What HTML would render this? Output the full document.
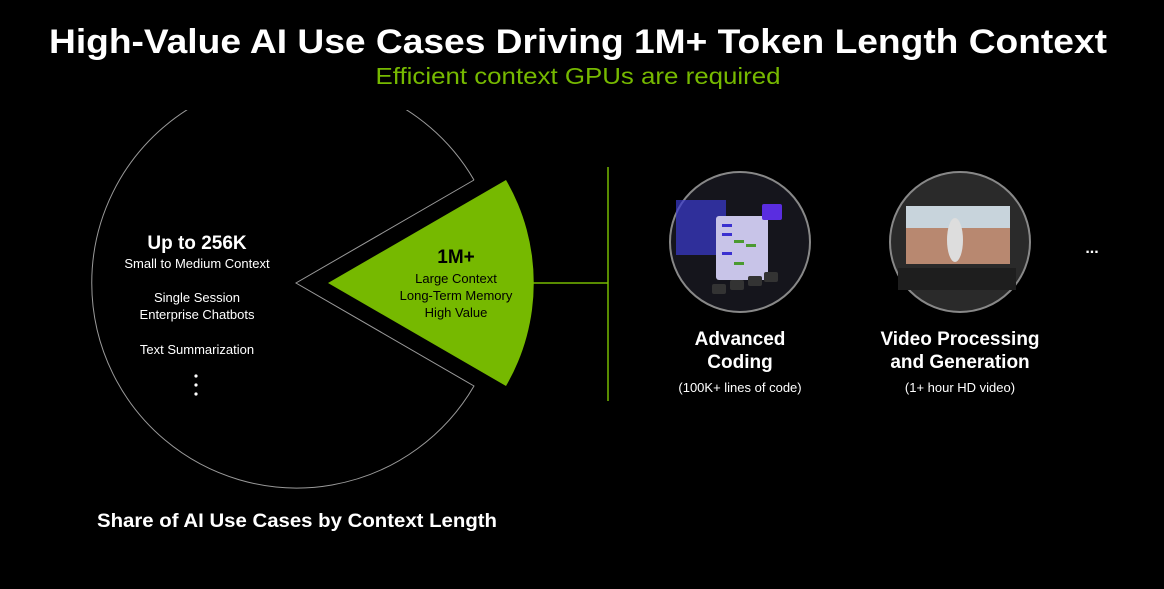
<!DOCTYPE html>
<html><head><meta charset="utf-8"><style>
html,body{margin:0;padding:0;background:#000;}
svg{display:block;}
text{font-family:"Liberation Sans",sans-serif;}
</style></head><body>
<svg width="1164" height="589" viewBox="0 0 1164 589" xmlns="http://www.w3.org/2000/svg">
<rect width="1164" height="589" fill="#000"/>
<text x="578" y="53" text-anchor="middle" font-size="34" font-weight="bold" fill="#fff" textLength="1058" lengthAdjust="spacingAndGlyphs">High-Value AI Use Cases Driving 1M+ Token Length Context</text>
<text x="578" y="84" text-anchor="middle" font-size="23" fill="#76b900" textLength="405" lengthAdjust="spacingAndGlyphs">Efficient context GPUs are required</text>
<defs><clipPath id="c"><rect x="0" y="110" width="1164" height="479"/></clipPath></defs>
<path clip-path="url(#c)" d="M474 180 L296 283 L474 386 A205 205 0 1 1 474 180" fill="none" stroke="#9a9a9a" stroke-width="1"/>
<path d="M328 283 L506 180 A205 205 0 0 1 506 386 Z" fill="#76b900"/>
<line x1="530" y1="283" x2="608" y2="283" stroke="#76b900" stroke-width="1.5"/>
<line x1="608" y1="167" x2="608" y2="401" stroke="#76b900" stroke-width="1.5"/>
<g fill="#fff" text-anchor="middle">
<text x="197" y="249" font-size="19" font-weight="bold">Up to 256K</text>
<text x="197" y="268" font-size="13">Small to Medium Context</text>
<text x="197" y="302" font-size="13">Single Session</text>
<text x="197" y="319" font-size="13">Enterprise Chatbots</text>
<text x="197" y="354" font-size="13">Text Summarization</text>
<circle cx="196" cy="376" r="1.6"/><circle cx="196" cy="385" r="1.6"/><circle cx="196" cy="394" r="1.6"/>
<text x="297" y="527" font-size="19" font-weight="bold" textLength="400" lengthAdjust="spacingAndGlyphs">Share of AI Use Cases by Context Length</text>
</g>
<g fill="#000" text-anchor="middle">
<text x="456" y="263" font-size="19" font-weight="bold">1M+</text>
<text x="456" y="283" font-size="13">Large Context</text>
<text x="456" y="300" font-size="13">Long-Term Memory</text>
<text x="456" y="317" font-size="13">High Value</text>
</g>
<circle cx="740" cy="242" r="70" fill="#15151c" stroke="#888" stroke-width="2"/>
<g>
<rect x="676" y="200" width="50" height="55" fill="#3a3ad0" opacity="0.7"/>
<rect x="716" y="216" width="52" height="64" fill="#c8c4e8" rx="3"/>
<rect x="762" y="204" width="20" height="16" fill="#5a2de0" rx="2"/>
<rect x="722" y="224" width="10" height="3" fill="#3a30d0"/><rect x="722" y="233" width="10" height="3" fill="#3a30d0"/>
<rect x="734" y="240" width="10" height="3" fill="#4a9a30"/><rect x="746" y="244" width="10" height="3" fill="#4a9a30"/>
<rect x="722" y="252" width="10" height="3" fill="#3a30d0"/><rect x="734" y="262" width="10" height="3" fill="#4a9a30"/>
<rect x="712" y="284" width="14" height="10" fill="#333" rx="2"/><rect x="730" y="280" width="14" height="10" fill="#333" rx="2"/>
<rect x="748" y="276" width="14" height="10" fill="#333" rx="2"/><rect x="764" y="272" width="14" height="10" fill="#333" rx="2"/>
</g>
<circle cx="960" cy="242" r="70" fill="#2a2a2a" stroke="#888" stroke-width="2"/>
<rect x="906" y="206" width="104" height="58" fill="#b88870"/>
<rect x="906" y="206" width="104" height="22" fill="#c8d4dc"/>
<rect x="898" y="268" width="118" height="22" fill="#1e1e1e"/>
<ellipse cx="955" cy="240" rx="8" ry="22" fill="#ddd"/>
<g fill="#fff" text-anchor="middle">
<text x="1092" y="253" font-size="16" font-weight="bold">...</text>
<text x="740" y="345" font-size="19" font-weight="bold">Advanced</text>
<text x="740" y="368" font-size="19" font-weight="bold">Coding</text>
<text x="740" y="392" font-size="13">(100K+ lines of code)</text>
<text x="960" y="345" font-size="19" font-weight="bold">Video Processing</text>
<text x="960" y="368" font-size="19" font-weight="bold">and Generation</text>
<text x="960" y="392" font-size="13">(1+ hour HD video)</text>
</g>
</svg>
</body></html>
